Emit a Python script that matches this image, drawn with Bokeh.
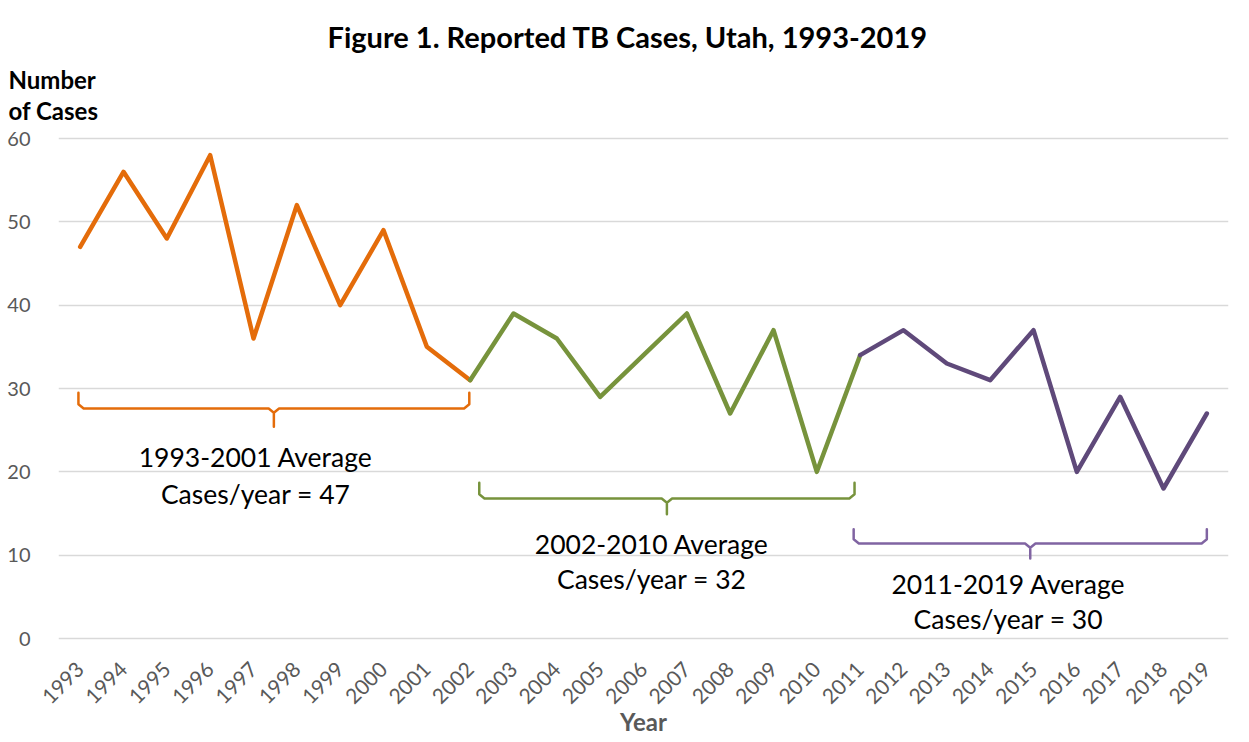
import math
from bokeh.plotting import figure
from bokeh.models import Range1d, FixedTicker, Label, Title
from bokeh.embed import file_html
from bokeh.resources import INLINE

# ---- data ----
years = [1993, 1994, 1995, 1996, 1997, 1998, 1999, 2000, 2001, 2002,
         2003, 2004, 2005, 2006, 2007, 2008, 2009, 2010, 2011, 2012,
         2013, 2014, 2015, 2016, 2017, 2018, 2019]
cases = [47, 56, 48, 58, 36, 52, 40, 49, 35, 31,
         39, 36, 29, 34, 39, 27, 37, 20, 34, 37,
         33, 31, 37, 20, 29, 18, 27]
y_ticks = [0, 10, 20, 30, 40, 50, 60]

period_names = ["1993-2001", "2002-2010", "2011-2019"]
period_avgs = [47, 32, 30]
# index ranges of each coloured segment (shared end points)
segment_start = [0, 9, 18]
segment_end = [9, 18, 26]
line_colors = ["#E46C0A", "#77933C", "#5F497A"]
brace_colors = ["#E46C0A", "#77933C", "#8064A2"]

# brace geometry (data units): left year, right year, top, middle, tip
brace_left = [1992.96, 2002.21, 2010.85]
brace_right = [2001.98, 2010.87, 2019.0]
brace_top = [29.5, 18.7, 13.1]
brace_mid = [27.6, 16.8, 11.4]
brace_tip = [25.4, 14.9, 9.6]
# annotation text centres
text_x = [1997.05, 2006.19, 2014.42]
text_y1 = [21.8, 11.4, 6.5]
text_y2 = [17.4, 7.1, 2.4]

FONT = "Lato"
GRAY = "#595959"

p = figure(frame_width=1170, frame_height=506,
           min_border_left=58, min_border_right=5,
           min_border_top=135, min_border_bottom=85,
           x_range=Range1d(1992.5, 2019.5), y_range=Range1d(-0.36, 60.36),
           output_backend="svg", toolbar_location=None, tools="")

p.outline_line_color = None
p.background_fill_color = "white"
p.border_fill_color = "white"

# main title (outermost)
p.title.text = "Figure 1. Reported TB Cases, Utah, 1993-2019"
p.title.align = "left"
p.title.offset = 269
p.title.standoff = -2
p.title.text_font = FONT
p.title.text_font_style = "bold"
p.title.text_font_size = "29px"
p.title.text_color = "black"

# y label block (closest to frame)
ylab = Title(text="Number\nof Cases", align="left", offset=-50, standoff=20,
             text_font=FONT, text_font_style="bold", text_font_size="24px",
             text_line_height=1.1, text_color="black")
p.add_layout(ylab, "above")

# grid
p.xgrid.grid_line_color = None
p.ygrid.grid_line_color = "#D9D9D9"
p.ygrid.grid_line_width = 1.3
p.yaxis.ticker = FixedTicker(ticks=y_ticks)
p.xaxis.ticker = FixedTicker(ticks=years)

for ax in (p.xaxis, p.yaxis):
    ax.axis_line_color = None
    ax.major_tick_line_color = None
    ax.minor_tick_line_color = None
    ax.major_label_text_color = GRAY
    ax.major_label_text_font = FONT

p.yaxis.major_label_text_font_size = "20px"
p.xaxis.major_label_text_font_size = "21px"
p.yaxis.major_label_standoff = 22
p.xaxis.major_label_standoff = 18
p.xaxis.major_label_orientation = math.pi / 4
p.xaxis.major_label_overrides = {y: str(y) for y in years}
p.xaxis.axis_label = "Year"
p.xaxis.axis_label_text_font = FONT
p.xaxis.axis_label_text_font_style = "bold"
p.xaxis.axis_label_text_font_size = "24px"
p.xaxis.axis_label_text_color = GRAY
p.xaxis.axis_label_standoff = -7

# lines
for s, e, c in zip(segment_start, segment_end, line_colors):
    p.line(years[s:e + 1], cases[s:e + 1], line_color=c, line_width=4.5,
           line_join="round", line_cap="round")

# braces and texts
for i in range(3):
    xl, xr = brace_left[i], brace_right[i]
    xc = (xl + xr) / 2
    yt, ym, yp = brace_top[i], brace_mid[i], brace_tip[i]
    dx, dy = 0.12, 0.5  # small rounded corners
    bx = [xl, xl, xl + dx, xc - dx, xc, xc, xc, xc + dx, xr - dx, xr, xr]
    by = [yt, ym + dy, ym, ym, ym - dy, yp, ym - dy, ym, ym, ym + dy, yt]
    p.line(bx, by, line_color=brace_colors[i], line_width=2.5,
           line_join="round", line_cap="round")
    p.add_layout(Label(x=text_x[i], y=text_y1[i], text=f"{period_names[i]} Average",
                       text_align="center", text_baseline="middle",
                       text_font=FONT, text_font_size="26.5px", text_color="black"))
    p.add_layout(Label(x=text_x[i], y=text_y2[i], text=f"Cases/year = {period_avgs[i]}",
                       text_align="center", text_baseline="middle",
                       text_font=FONT, text_font_size="26.5px", text_color="black"))

open("out.html", "w").write(file_html(p, INLINE))
